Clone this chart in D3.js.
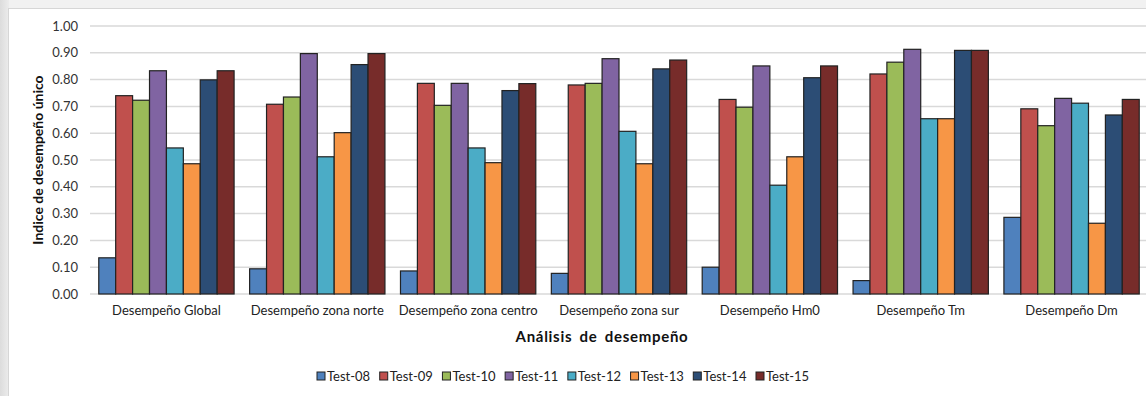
<!DOCTYPE html>
<html>
<head>
<meta charset="utf-8">
<script src="https://cdn.jsdelivr.net/npm/d3@7"></script>
<style>
  html, body { margin: 0; padding: 0; background: #ededed; }
  svg { display: block; }
</style>
</head>
<body>
<svg id="chart" width="1146" height="396"></svg>
<script>
// Categories (x axis) and series names
const categories = [
  "Desempeño Global", "Desempeño zona norte", "Desempeño zona centro",
  "Desempeño zona sur", "Desempeño Hm0", "Desempeño Tm", "Desempeño Dm"
];
const seriesNames = ["Test-08", "Test-09", "Test-10", "Test-11", "Test-12", "Test-13", "Test-14", "Test-15"];

// One array of values per test, in category order
const test08 = [0.135, 0.094, 0.086, 0.077, 0.100, 0.050, 0.286];
const test09 = [0.740, 0.708, 0.786, 0.780, 0.726, 0.821, 0.691];
const test10 = [0.723, 0.735, 0.704, 0.786, 0.697, 0.865, 0.628];
const test11 = [0.833, 0.897, 0.786, 0.878, 0.851, 0.913, 0.730];
const test12 = [0.545, 0.512, 0.545, 0.607, 0.406, 0.654, 0.712];
const test13 = [0.486, 0.602, 0.490, 0.486, 0.512, 0.654, 0.264];
const test14 = [0.799, 0.856, 0.759, 0.840, 0.807, 0.909, 0.668];
const test15 = [0.833, 0.897, 0.785, 0.873, 0.851, 0.909, 0.726];

const yTicks = [0, 0.1, 0.2, 0.3, 0.4, 0.5, 0.6, 0.7, 0.8, 0.9, 1.0];

const colors = ["#4F81BD", "#C0504D", "#9BBB59", "#8064A2", "#4BACC6", "#F79646", "#2C4D75", "#772C2A"];
const seriesValues = [test08, test09, test10, test11, test12, test13, test14, test15];

const svg = d3.select("#chart");
const W = 1146, H = 396;
const font = "Lato, 'Open Sans', sans-serif";

// page backdrop and chart panel
const bg = svg.append("defs").append("linearGradient")
  .attr("id", "edge").attr("x1", 0).attr("x2", 1).attr("y1", 0).attr("y2", 0);
bg.append("stop").attr("offset", "0%").attr("stop-color", "#dcdcdc");
bg.append("stop").attr("offset", "100%").attr("stop-color", "#ececec");
svg.append("rect").attr("x", 0).attr("y", 0).attr("width", W).attr("height", H).attr("fill", "#f1f1f1");
svg.append("rect").attr("x", 0).attr("y", 0).attr("width", 9).attr("height", H).attr("fill", "url(#edge)");
svg.append("rect").attr("x", 8.5).attr("y", 8.5).attr("width", W).attr("height", H)
  .attr("fill", "#ffffff").attr("stroke", "#d6d6d6").attr("stroke-width", 1);

// plot area
const plot = { left: 91, right: 1147, top: 26, bottom: 294 };

const x0 = d3.scaleBand().domain(categories)
  .range([plot.left, plot.right]).paddingInner(0.103).paddingOuter(0.0515);
const x1 = d3.scaleBand().domain(seriesNames).range([0, x0.bandwidth()]).padding(0);
const y = d3.scaleLinear().domain([0, 1]).range([plot.bottom, plot.top]);

// gridlines
svg.append("g").selectAll("line").data(yTicks).join("line")
  .attr("x1", plot.left - 1).attr("x2", W)
  .attr("y1", d => y(d)).attr("y2", d => y(d))
  .attr("stroke", "#d9d9d9").attr("stroke-width", 1.5);

// y axis labels
const yAxis = d3.axisLeft(y).tickValues(yTicks).tickFormat(d3.format(".2f")).tickSize(0).tickPadding(0);
const yg = svg.append("g").attr("transform", `translate(${plot.left - 13},0)`).call(yAxis);
yg.select(".domain").remove();
yg.selectAll("text").attr("font-family", font).attr("font-size", 13).attr("fill", "#333");

// bars
const groups = svg.append("g").selectAll("g").data(categories).join("g")
  .attr("transform", d => `translate(${x0(d)},0)`);
groups.selectAll("rect")
  .data((c, ci) => seriesNames.map((s, si) => ({ s, si, v: seriesValues[si][ci] })))
  .join("rect")
  .attr("x", d => x1(d.s))
  .attr("y", d => y(d.v))
  .attr("width", x1.bandwidth())
  .attr("height", d => y(0) - y(d.v))
  .attr("fill", d => colors[d.si])
  .attr("stroke", "#222")
  .attr("stroke-width", 1.2);

// category labels
const xAxis = d3.axisBottom(x0).tickSize(0).tickPadding(0);
const xg = svg.append("g").attr("transform", `translate(0,${plot.bottom + 21})`).call(xAxis);
xg.select(".domain").remove();
xg.selectAll("text").attr("font-family", font).attr("font-size", 13).attr("fill", "#222")
  .attr("dy", "0");

// axis titles
svg.append("text").attr("x", 602).attr("y", 342).attr("text-anchor", "middle")
  .attr("font-family", font).attr("font-size", 15).attr("font-weight", "bold").attr("fill", "#111")
  .attr("letter-spacing", 0.7).attr("word-spacing", 3)
  .text("Análisis de desempeño");
svg.append("text").attr("transform", "translate(43,160) rotate(-90)").attr("text-anchor", "middle")
  .attr("font-family", font).attr("font-size", 14).attr("font-weight", "bold").attr("fill", "#111")
  .text("Indice de desempeño único");

// legend
const legendX = d3.scalePoint().domain(seriesNames).range([317, 756]);
const lg = svg.append("g").selectAll("g").data(seriesNames).join("g")
  .attr("transform", d => `translate(${legendX(d)},376)`);
lg.append("rect").attr("x", 0).attr("y", -4).attr("width", 8).attr("height", 8)
  .attr("fill", (d, i) => colors[i]).attr("stroke", "#222").attr("stroke-width", 1);
lg.append("text").attr("x", 10).attr("y", 0).attr("dy", "0.35em")
  .attr("font-family", font).attr("font-size", 13).attr("fill", "#222")
  .text(d => d);
</script>
</body>
</html>
